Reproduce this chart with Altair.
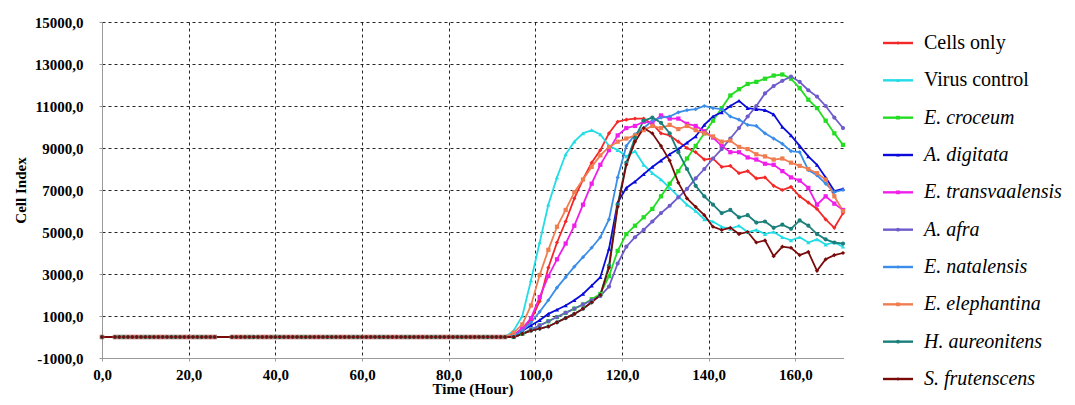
import altair as alt
import pandas as pd

# ---------------- data ----------------
series_names = ["Cells only", "Virus control", "E. croceum", "A. digitata",
                "E. transvaalensis", "A. afra", "E. natalensis",
                "E. elephantina", "H. aureonitens", "S. frutenscens"]
series_colors = ["#F42828", "#22DCE6", "#22DD22", "#0A0ADC", "#F01EEB",
                 "#6E5CCB", "#3A8DE8", "#F07D50", "#1B7F7B", "#7A0A0A"]
series_shapes = ["diamond", "triangle-up", "square", "triangle-up", "square",
                 "circle", "diamond", "square", "circle", "diamond"]
series_widths = [1.8, 1.8, 2.6, 2.0, 2.4, 2.6, 2.4, 2.6, 2.0, 2.2]
italic_names = ["E. croceum", "A. digitata", "E. transvaalensis", "A. afra",
                "E. natalensis", "E. elephantina", "H. aureonitens", "S. frutenscens"]

# flat phase (all series sit at 0 until ~93 h)
baseline_hours = [0] + list(range(3, 27)) + list(range(30, 94))
baseline_value = 0

# growth phase sampling times (hours)
active_hours = [95, 97, 99, 101, 103, 105, 107, 109, 111, 113, 115, 117, 119,
                121, 123, 125, 127, 129, 131, 133, 135, 137, 139, 141, 143, 145,
                147, 149, 151, 153, 155, 157, 159, 161, 163, 165, 167, 169, 171]

cells_only = [100, 400, 800, 1700, 3300, 4500, 5500, 6600, 7500, 8300, 8900, 9700, 10250,
              10350, 10400, 10400, 10150, 9700, 9600, 9300, 9000, 8800, 8450, 8500, 8100, 8150,
              7800, 7900, 7550, 7600, 7200, 7000, 7150, 6700, 6400, 6100, 5600, 5200, 5900]
virus_control = [300, 1000, 2700, 4500, 6300, 7600, 8700, 9300, 9700, 9850, 9650, 9100, 8900,
                 8600, 8850, 8200, 7800, 7500, 7100, 6700, 6300, 6000, 5600, 5500, 5250, 5150,
                 5300, 5000, 5100, 4900, 5000, 4750, 4600, 4750, 4500, 4650, 4400, 4500, 4300]
e_croceum = [0, 150, 350, 550, 750, 950, 1150, 1350, 1550, 1800, 2050, 2900, 4100,
             4900, 5300, 5700, 6100, 6700, 7300, 7900, 8500, 9100, 9700, 10300, 10900, 11500,
             11800, 12050, 12150, 12300, 12450, 12500, 12300, 11850, 11300, 10900, 10300, 9700, 9150]
a_digitata = [50, 300, 550, 800, 1100, 1300, 1500, 1750, 2050, 2450, 2850, 4200, 6400,
              7100, 7400, 7750, 8100, 8400, 8700, 8950, 9250, 9550, 10100, 10500, 10700, 11000,
              11250, 10900, 10850, 10800, 10600, 10000, 9600, 9100, 8600, 8200, 7600, 6950, 7050]
e_transvaalensis = [100, 400, 900, 1900, 2900, 3700, 4450, 5300, 6300, 7300, 8200, 8900, 9600,
                    9950, 10050, 10250, 10200, 10550, 10400, 10400, 10150, 10050, 9800, 9500, 9100, 8800,
                    8800, 8550, 8450, 8250, 8200, 7900, 7600, 7450, 7100, 6300, 6700, 6350, 6050]
a_afra = [0, 150, 350, 550, 750, 950, 1150, 1350, 1550, 1750, 1950, 2400, 3500,
          4300, 4750, 5100, 5500, 5900, 6250, 6650, 7050, 7550, 8000, 8500, 8950, 9450,
          9950, 10500, 11000, 11600, 11950, 12200, 12400, 12150, 11750, 11450, 11000, 10450, 9950]
e_natalensis = [50, 300, 700, 1200, 1750, 2350, 2850, 3350, 3800, 4250, 4750, 5600, 7600,
                9100, 9650, 9950, 10300, 10450, 10500, 10700, 10800, 10850, 11000, 10900, 10850, 10500,
                10350, 10100, 10050, 9700, 9450, 9200, 8850, 8800, 7950, 7700, 7300, 6900, 7000]
e_elephantina = [200, 600, 1500, 2950, 4150, 5250, 6050, 6900, 7500, 8100, 8650, 9050, 9300,
                 9450, 9600, 9850, 10050, 9950, 10100, 9900, 10050, 9850, 9700, 9550, 9300, 9350,
                 9050, 8950, 8700, 8600, 8450, 8500, 8300, 8150, 8000, 7800, 7500, 6700, 6000]
h_aureonitens = [0, 150, 300, 400, 500, 700, 900, 1100, 1350, 1650, 2000, 3400, 6300,
                 8300, 9500, 10300, 10450, 10200, 9700, 8800, 8000, 7200, 6700, 6300, 5900, 6050,
                 5700, 5800, 5450, 5500, 5200, 5350, 5150, 5550, 5300, 4900, 4650, 4500, 4450]
s_frutenscens = [0, 150, 300, 400, 500, 700, 900, 1100, 1350, 1650, 2000, 3300, 6200,
                 8200, 9300, 9950, 9700, 9100, 8400, 7350, 6600, 6200, 5800, 5250, 5100, 5200,
                 4900, 5000, 4500, 4600, 3850, 4300, 4250, 3900, 4050, 3150, 3700, 3900, 4000]

series_values = [cells_only, virus_control, e_croceum, a_digitata, e_transvaalensis,
                 a_afra, e_natalensis, e_elephantina, h_aureonitens, s_frutenscens]

y_ticks = [-1000, 1000, 3000, 5000, 7000, 9000, 11000, 13000, 15000]
x_ticks = [0, 20, 40, 60, 80, 100, 120, 140, 160]

# ---------------- build table ----------------
rows = []
for i, (name, vals) in enumerate(zip(series_names, series_values)):
    for h in baseline_hours:
        rows.append({"series": name, "idx": i, "time": h, "value": baseline_value})
    for h, v in zip(active_hours, vals):
        rows.append({"series": name, "idx": i, "time": h, "value": v})
df = pd.DataFrame(rows)
leg_df = pd.DataFrame({"series": series_names,
                       "italic": [n in italic_names for n in series_names]})

FONT = "'Liberation Serif', 'Times New Roman', Times, serif"
num_fmt = "replace((datum.value < 0 ? '-' : '') + format(abs(datum.value), '.1f'), '.', ',')"

color_scale = alt.Scale(domain=series_names, range=series_colors)
shape_scale = alt.Scale(domain=series_names, range=series_shapes)
width_scale = alt.Scale(domain=series_names, range=series_widths)
x_scale = alt.Scale(domain=[0, 171], nice=False, zero=False)
y_scale = alt.Scale(domain=[-1000, 15000], nice=False, zero=False)

axis_common = dict(grid=True, gridDash=[3, 3], gridColor="#000000", gridOpacity=0.85,
                   tickSize=3, labelFlush=False, labelOverlap=False,
                   domainColor="#9A9A9A", tickColor="#9A9A9A",
                   labelFont=FONT, labelFontSize=15, labelFontWeight="bold",
                   labelColor="#000000", titleFont=FONT, titleFontSize=15,
                   titleFontWeight="bold", titleColor="#000000", labelExpr=num_fmt)

x_enc = alt.X("time:Q", scale=x_scale,
              axis=alt.Axis(values=x_ticks, title="Time (Hour)", labelPadding=6,
                            titlePadding=-1, **axis_common))
y_enc = alt.Y("value:Q", scale=y_scale,
              axis=alt.Axis(values=y_ticks, title="Cell Index", labelPadding=16,
                            titlePadding=6, **axis_common))

base = alt.Chart(df)
lines = base.mark_line(interpolate="linear").encode(
    x=x_enc, y=y_enc,
    color=alt.Color("series:N", scale=color_scale, legend=None),
    strokeWidth=alt.StrokeWidth("series:N", scale=width_scale, legend=None),
    detail="series:N",
    order=alt.Order("time:Q"),
)
points = base.mark_point(filled=True, size=18, opacity=1).encode(
    x=alt.X("time:Q", scale=x_scale),
    y=alt.Y("value:Q", scale=y_scale),
    color=alt.Color("series:N", scale=color_scale, legend=None),
    shape=alt.Shape("series:N", scale=shape_scale, legend=None),
)
data_layer = alt.layer(lines, points)

leg_y = alt.Y("series:N", sort=series_names,
              scale=alt.Scale(type="point", range=[21, 357], padding=0), axis=None)
leg_base = alt.Chart(leg_df)
leg_rule = leg_base.mark_rule(strokeWidth=2.4).encode(
    x=alt.value(781), x2=alt.value(811), y=leg_y,
    color=alt.Color("series:N", scale=color_scale, legend=None))
leg_pt = leg_base.mark_point(filled=True, size=14, opacity=1).encode(
    x=alt.value(796), y=leg_y,
    color=alt.Color("series:N", scale=color_scale, legend=None),
    shape=alt.Shape("series:N", scale=shape_scale, legend=None))
leg_txt_plain = leg_base.transform_filter("!datum.italic").mark_text(
    align="left", baseline="middle", font=FONT, fontSize=20, color="#000000").encode(
    x=alt.value(822), y=leg_y, text="series:N")
leg_txt_it = leg_base.transform_filter("datum.italic").mark_text(
    align="left", baseline="middle", font=FONT, fontSize=20, fontStyle="italic",
    color="#000000").encode(
    x=alt.value(822), y=leg_y, text="series:N")

legend_layer = alt.layer(leg_rule, leg_pt, leg_txt_plain, leg_txt_it)

chart = alt.layer(data_layer, legend_layer).resolve_scale(
    y="independent"
).properties(
    width=741, height=336,
    padding={"left": 94, "top": 14, "right": 224, "bottom": 39},
    autosize=alt.AutoSizeParams(type="none"),
    background="#FFFFFF",
).configure_view(stroke=None)

chart.save("out.html", embed_options={"renderer": "svg", "actions": False})
